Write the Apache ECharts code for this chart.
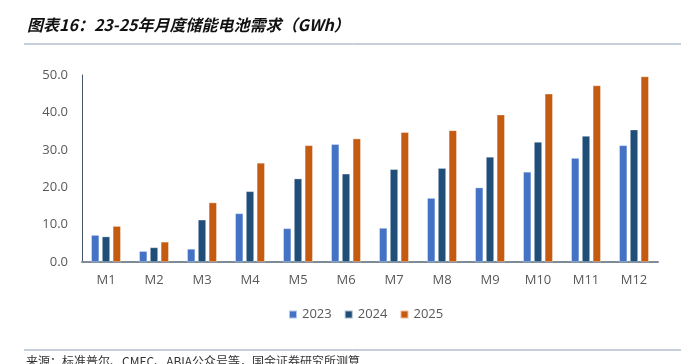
<!DOCTYPE html>
<html><head><meta charset="utf-8">
<script src="https://cdn.jsdelivr.net/npm/echarts@6/dist/echarts.min.js"></script>
<style>html,body{margin:0;padding:0;background:#fff}#c{width:681px;height:364px}</style>
</head><body><div id="c"></div>
<script>
var categories = ['M1','M2','M3','M4','M5','M6','M7','M8','M9','M10','M11','M12'];
var s2023 = [7.2, 2.9, 3.5, 13.0, 9.0, 31.5, 9.1, 17.1, 19.9, 24.1, 27.8, 31.2];
var s2024 = [6.8, 3.9, 11.3, 18.9, 22.3, 23.6, 24.8, 25.1, 28.1, 32.1, 33.7, 35.4];
var s2025 = [9.6, 5.4, 15.9, 26.5, 31.2, 33.0, 34.7, 35.2, 39.4, 45.0, 47.2, 49.6];
var seriesNames = ['2023','2024','2025'];
var titleText = '图表16：23-25年月度储能电池需求（GWh）';
var sourceText = '来源：标准普尔、CMEC、ABIA公众号等，国金证券研究所测算';

var chart = echarts.init(document.getElementById('c'));
var colors = ['#4472C4','#1F4E79','#C55A11'];
function mk(name, data, i){
  return {name:name, type:'bar', data:data, barWidth:8, barGap:'35%',
    itemStyle:{color:colors[i], borderColor:'rgba(255,255,255,0.6)', borderWidth:0.6}};
}
chart.setOption({
  animation:false,
  color:colors,
  graphic:[
    {type:'text', left:27, top:17, style:{text:titleText, font:'italic bold 16px "Noto Sans CJK SC"', fill:'#111'}},
    {type:'line', shape:{x1:24,y1:44,x2:681,y2:44}, style:{stroke:'#8EA0B4', lineWidth:1}},
    {type:'line', shape:{x1:24,y1:350,x2:681,y2:350}, style:{stroke:'#8EA0B4', lineWidth:1}},
    {type:'text', left:26, top:355, style:{text:sourceText, font:'12px "Noto Sans CJK SC"', fill:'#333'}}
  ],
  grid:{left:82, right:23, top:75, bottom:102},
  legend:{data:seriesNames, top:303, left:283, itemWidth:8, itemHeight:8, itemGap:12,
    icon:'rect', textStyle:{color:'#595959', fontSize:13, fontFamily:'"Open Sans", sans-serif'}},
  xAxis:{type:'category', data:categories,
    axisLine:{lineStyle:{color:'#7F8A99', width:2}}, axisTick:{show:false},
    axisLabel:{color:'#595959', fontSize:13, margin:12, fontFamily:'"Open Sans", sans-serif'}},
  yAxis:{type:'value', min:0, max:50, interval:10,
    axisLine:{show:true, lineStyle:{color:'#44546A', width:1}}, axisTick:{show:false},
    splitLine:{show:false},
    axisLabel:{color:'#595959', fontSize:13, margin:14, fontFamily:'"Open Sans", sans-serif',
      formatter:function(v){return v.toFixed(1);}}},
  series:[mk(seriesNames[0], s2023, 0), mk(seriesNames[1], s2024, 1), mk(seriesNames[2], s2025, 2)]
});
</script></body></html>
